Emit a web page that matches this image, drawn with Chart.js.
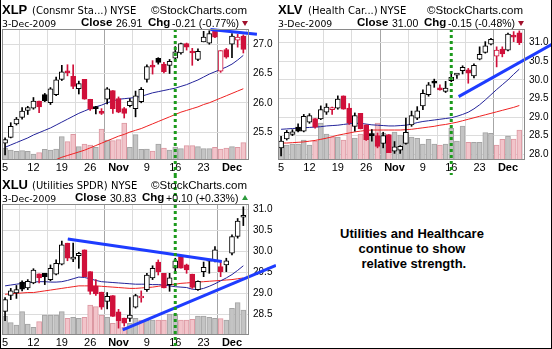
<!DOCTYPE html>
<html>
<head>
<meta charset="utf-8">
<script src="https://cdn.jsdelivr.net/npm/chart.js@4.4.0/dist/chart.umd.min.js"></script>
<style>
  html, body { margin: 0; padding: 0; background: #fff; }
  #page { position: relative; width: 552px; height: 349px; overflow: hidden; background: #fff; }
  #page canvas { position: absolute; }
  .t { position: absolute; white-space: nowrap; line-height: 1; color: #000; }
  .sym { font: bold 13px "Liberation Sans", Arial, sans-serif; }
  .name { font: 10px "DejaVu Sans", sans-serif; }
  .site { font: 11.5px "Liberation Sans", Arial, sans-serif; }
  .date { font: 9.3px "DejaVu Sans", sans-serif; }
  .lbl { font: bold 11.5px "Liberation Sans", Arial, sans-serif; }
  .val { font: 10.5px "Liberation Sans", Arial, sans-serif; }
  .tri { position: absolute; width: 0; height: 0; border-left: 3.5px solid transparent; border-right: 3.5px solid transparent; }
  #note { position: absolute; left: 276px; top: 226px; width: 272px; text-align: center;
          font: bold 13px "Liberation Sans", Arial, sans-serif; line-height: 15px; color: #000; }
  #edge { position: absolute; left: 0; top: 0; width: 552px; height: 349px; box-sizing: border-box;
          border-left: 1px solid #000; border-right: 1px solid #000; border-bottom: 1px solid #000; pointer-events: none; }
</style>
</head>
<body>
<div id="page">
  <canvas id="xlp" width="276" height="175" style="left:0;top:0"></canvas>
  <canvas id="xlv" width="276" height="175" style="left:276px;top:0"></canvas>
  <canvas id="xlu" width="276" height="175" style="left:0;top:175px"></canvas>
  <div id="note">Utilities and Healthcare<br>continue to show<br>&nbsp;relative strength.</div>
  <div id="edge"></div>
</div>
<script>
/* ==========================
   DATA
========================== */
// trading days Oct 5 .. Dec 3 2009 (index = position on the x axis)
const days = ["Oct 5","Oct 6","Oct 7","Oct 8","Oct 9","Oct 12","Oct 13","Oct 14","Oct 15","Oct 16",
  "Oct 19","Oct 20","Oct 21","Oct 22","Oct 23","Oct 26","Oct 27","Oct 28","Oct 29","Oct 30",
  "Nov 2","Nov 3","Nov 4","Nov 5","Nov 6","Nov 9","Nov 10","Nov 11","Nov 12","Nov 13",
  "Nov 16","Nov 17","Nov 18","Nov 19","Nov 20","Nov 23","Nov 24","Nov 25","Nov 27","Nov 30",
  "Dec 1","Dec 2","Dec 3"];
const tickDays = [0, 5, 10, 15, 20, 25, 30, 35, 40];
const tickText = ["5", "12", "19", "26", "Nov", "9", "16", "23", "Dec"];
const monthDays = [20, 40];
const markerDay = 30;
const priceStep = 0.5;

// [open, high, low, close]
const xlpOhlc = [
  [25.31,25.40,25.11,25.37],[25.41,25.66,25.40,25.60],[25.64,25.75,25.62,25.72],[25.75,25.92,25.72,25.86],
  [25.87,25.94,25.80,25.92],[25.91,26.09,25.89,26.03],[26.03,26.03,25.83,25.93],[26.14,26.16,26.02,26.03],
  [26.00,26.26,25.97,26.24],[26.14,26.44,26.12,26.39],[26.40,26.64,26.38,26.53],[26.52,26.65,26.46,26.51],
  [26.45,26.65,26.24,26.28],[26.24,26.37,26.15,26.33],[26.40,26.40,26.06,26.06],[26.06,26.06,25.87,25.89],
  [25.91,25.94,25.81,25.90],[25.83,25.90,25.80,25.82],[26.06,26.26,25.98,26.24],[26.21,26.21,25.82,25.90],
  [26.07,26.10,25.83,25.84],[25.90,25.92,25.74,25.82],[25.95,26.07,25.93,26.03],[25.90,26.20,25.76,26.12],
  [26.02,26.26,26.00,26.23],[26.40,26.65,26.35,26.62],[26.62,26.72,26.49,26.61],[26.76,26.77,26.66,26.69],
  [26.66,26.69,26.51,26.53],[26.64,26.74,26.50,26.71],[26.76,26.96,26.74,26.87],[26.85,27.02,26.83,27.01],
  [27.01,27.02,26.90,26.95],[26.86,26.93,26.64,26.85],[26.74,26.92,26.72,26.88],[27.04,27.22,27.04,27.12],
  [27.02,27.23,27.00,27.18],[27.23,27.24,27.11,27.12],[26.54,26.89,26.52,26.89],[26.91,26.93,26.76,26.78],
  [27.00,27.18,26.77,27.14],[27.07,27.17,26.95,27.12],[27.14,27.16,26.85,26.91]];
const xlpPrev = 25.25;
const xlpVolume = [11,9,7.7,8.3,7.7,5,6.3,9.7,9,10,22.3,17.3,24.7,12.3,15,14,11.7,30,19,18.3,19.3,36,11.7,24.3,
  9.7,10,8,15,11,9,12,10.3,13.3,13.3,12.3,10.3,10.3,11.7,10,11,12.3,11.7,16.3];
const xlpMa20 = [25.24,25.28,25.32,25.36,25.40,25.45,25.49,25.53,25.57,25.62,25.67,25.72,25.77,25.82,25.86,
  25.90,25.93,25.96,26.00,26.03,26.06,26.07,26.08,26.09,26.11,26.14,26.17,26.19,26.21,26.23,26.25,26.28,
  26.31,26.35,26.39,26.44,26.49,26.53,26.57,26.61,26.66,26.73,26.81];
const xlpMa50 = [null,null,null,null,null,null,null,null,null,25.03,25.07,25.10,25.13,25.16,25.19,25.23,25.27,
  25.31,25.35,25.39,25.43,25.46,25.50,25.53,25.56,25.60,25.64,25.68,25.72,25.76,25.80,25.84,25.87,25.90,
  25.93,25.97,26.00,26.04,26.08,26.12,26.16,26.20,26.24];
const xlpTrends = [[[36.2, 27.25], [44.4, 27.17]]];

const xlvOhlc = [
  [28.17,28.48,27.95,28.35],[28.41,28.64,28.38,28.59],[28.53,28.66,28.50,28.60],[28.73,28.82,28.60,28.62],
  [28.62,29.07,28.60,29.02],[28.86,29.09,28.83,29.04],[28.96,28.96,28.70,28.73],[28.95,29.30,28.93,29.20],
  [29.13,29.36,29.07,29.27],[29.20,29.27,29.07,29.25],[29.24,29.57,29.21,29.48],[29.57,29.57,29.21,29.21],
  [29.24,29.36,28.80,28.84],[28.75,29.11,28.62,29.04],[29.10,29.10,28.68,28.68],[28.79,28.79,28.37,28.39],
  [28.51,28.66,28.35,28.50],[28.50,28.57,28.17,28.21],[28.29,28.59,28.17,28.50],[28.53,28.53,28.04,28.04],
  [28.08,28.34,28.02,28.20],[28.11,28.23,28.02,28.21],[28.29,28.97,28.27,28.59],[28.79,29.16,28.75,29.04],
  [28.97,29.28,28.93,29.17],[29.30,29.73,29.20,29.64],[29.60,29.93,29.56,29.87],[29.97,30.02,29.80,29.91],
  [29.78,29.87,29.72,29.73],[29.69,29.96,29.66,29.78],[29.98,30.17,29.95,30.07],[30.13,30.17,30.04,30.16],
  [30.25,30.38,30.16,30.34],[30.27,30.31,29.91,30.18],[30.11,30.43,30.05,30.39],[30.56,30.89,30.54,30.69],
  [30.74,31.03,30.72,30.92],[30.96,31.12,30.94,31.09],[30.64,30.89,30.35,30.80],[30.83,30.89,30.62,30.70],
  [30.80,31.26,30.78,31.23],[31.17,31.30,31.03,31.15],[31.27,31.32,30.95,31.00]];
const xlvPrev = 28.20;
const xlvVolume = [18,14,15,15,19,14,18,36,25,22,22,19,36,21,25,25,26,36,26,23,27,24,27,22,
  20.7,15,19.7,15,14,15,30.7,18,33,16.7,16.7,16.7,26.3,25.7,14,19.7,23,20,29];
const xlvMa20 = [28.67,28.68,28.69,28.70,28.71,28.72,28.73,28.74,28.76,28.77,28.78,28.80,28.82,28.83,28.83,
  28.81,28.79,28.78,28.77,28.76,28.76,28.77,28.78,28.81,28.85,28.88,28.90,28.92,28.94,28.96,28.98,29.02,
  29.07,29.13,29.22,29.33,29.46,29.60,29.74,29.87,30.00,30.15,30.29];
const xlvMa50 = [28.30,28.30,28.31,28.32,28.33,28.35,28.37,28.40,28.43,28.47,28.51,28.54,28.57,28.60,28.62,
  28.64,28.65,28.65,28.65,28.65,28.65,28.65,28.66,28.67,28.69,28.71,28.73,28.75,28.78,28.80,28.83,28.86,
  28.90,28.94,28.98,29.02,29.06,29.10,29.14,29.18,29.22,29.26,29.31];
const xlvTrends = [[[31.3, 29.55], [47.75, 30.96]]];

const xluOhlc = [
  [28.57,28.90,28.35,28.85],[28.95,29.12,28.85,29.06],[29.01,29.19,28.88,29.09],[29.27,29.30,29.06,29.10],
  [29.13,29.33,29.09,29.29],[29.25,29.59,29.23,29.56],[29.47,29.47,29.25,29.37],[29.48,29.48,29.21,29.40],
  [29.33,29.68,29.30,29.60],[29.46,29.80,29.44,29.72],[29.70,30.25,29.68,30.16],[30.20,30.20,29.78,29.84],
  [29.82,30.20,29.76,29.87],[29.90,29.98,29.60,29.96],[30.04,30.04,29.40,29.40],[29.52,29.52,28.98,29.05],
  [29.17,29.33,28.95,28.99],[29.03,29.03,28.62,28.67],[28.81,29.02,28.63,28.93],[28.95,28.95,28.45,28.45],
  [28.56,28.62,28.17,28.35],[28.41,28.41,28.22,28.29],[28.40,28.90,28.33,28.48],[28.67,28.98,28.65,28.95],
  [28.89,29.06,28.79,28.93],[29.09,29.48,29.05,29.44],[29.37,29.66,29.33,29.60],[29.75,29.80,29.44,29.52],
  [29.48,29.48,29.13,29.13],[29.21,29.48,29.05,29.37],[29.60,29.84,29.52,29.78],[29.88,29.90,29.60,29.60],
  [29.68,29.70,29.48,29.56],[29.46,29.46,29.12,29.14],[29.09,29.30,29.07,29.29],[29.52,29.75,29.40,29.62],
  [29.77,29.78,29.48,29.78],[29.78,30.12,29.75,30.04],[29.64,29.78,29.40,29.52],[29.68,29.84,29.52,29.78],
  [29.96,30.40,29.92,30.36],[30.36,30.79,30.32,30.73],[30.82,31.07,30.62,30.83]];
const xluPrev = 28.75;
const xluVolume = [18,11.3,9,22.3,10,6.7,12.3,19,19,19,22.3,15.7,16.7,15.7,16.7,29,27.3,19,16.7,10.7,14.7,6.7,10.7,15.7,
  14,14,14,14,14,20,20,14,14,14.7,18,18,16.7,15.7,15.3,14,25.7,31.3,24];
const xluMa20 = [29.18,29.20,29.22,29.24,29.26,29.27,29.28,29.28,29.27,29.27,29.28,29.31,29.35,29.39,29.38,
  29.35,29.31,29.28,29.27,29.26,29.25,29.24,29.23,29.22,29.22,29.22,29.21,29.21,29.20,29.18,29.16,29.15,
  29.14,29.10,29.09,29.12,29.17,29.23,29.30,29.37,29.45,29.55,29.66];
const xluMa50 = [28.98,28.99,29.00,29.01,29.02,29.02,29.04,29.06,29.08,29.10,29.12,29.14,29.16,29.18,29.18,
  29.18,29.18,29.17,29.16,29.15,29.14,29.13,29.12,29.12,29.13,29.14,29.15,29.17,29.19,29.20,29.22,29.24,
  29.25,29.26,29.27,29.28,29.29,29.30,29.31,29.32,29.33,29.35,29.37];
const xluTrends = [[[11.05, 30.30], [38.2, 29.76]], [[20.74, 28.13], [47.75, 29.67]]];

/* ==========================
   COLOURS
========================== */
const RED = "#d0103a";
const BLACK = "#000000";
const VOL_UP = "#c4c4c4", VOL_UP_EDGE = "#a4a4a4";
const VOL_DN = "#f2c4ca", VOL_DN_EDGE = "#dc98a2";
const MA20_COLOR = "#23239a";
const MA50_COLOR = "#ee2222";
const TREND_COLOR = "#1e3cff";
const GREEN = "#1c9a1c";

/* ==========================
   HEADERS
========================== */
const page = document.getElementById("page");

function addText(cls, text, x, baseline, size, color) {
    const el = document.createElement("div");
    el.className = "t " + cls;
    el.textContent = text;
    el.style.left = x + "px";
    el.style.top = (baseline - size * 0.85) + "px";
    if (color) el.style.color = color;
    page.appendChild(el);
}

function addHeader(px, py, h) {
    addText("sym", h.sym, px + 2, py + 13.5, 13);
    addText("name", h.name, px + 32, py + 13.3, 10);
    addText("name", "NYSE", px + h.exchX, py + 13.3, 10);
    addText("site", "\u00a9StockCharts.com", px + 151, py + 13.3, 11.5);
    addText("date", "3-Dec-2009", px + 2, py + 26, 9.3);
    addText("lbl", "Close", px + h.closeX, py + 26, 11.5);
    addText("val", h.close, px + h.closeX + 35, py + 26, 10.5);
    addText("lbl", "Chg", px + h.closeX + 67, py + 26, 11.5);
    addText("val", h.chg, px + h.closeX + 91, py + 26, 10.5);
    const tri = document.createElement("div");
    tri.className = "tri";
    tri.style.left = (px + 242) + "px";
    if (h.up) {
        tri.style.top = (py + 20) + "px";
        tri.style.borderBottom = "5px solid #2c9a3c";
    } else {
        tri.style.top = (py + 21) + "px";
        tri.style.borderTop = "5px solid #a0102c";
    }
    page.appendChild(tri);
}

addHeader(0, 0, { sym: "XLP", name: "(Consmr Sta...)", exchX: 110, closeX: 81, close: "26.91", chg: "-0.21 (-0.77%)", up: false });
addHeader(276, 0, { sym: "XLV", name: "(Health Car...)", exchX: 104, closeX: 81, close: "31.00", chg: "-0.15 (-0.48%)", up: false });
addHeader(0, 175, { sym: "XLU", name: "(Utilities SPDR)", exchX: 111, closeX: 75, close: "30.83", chg: "+0.10 (+0.33%)", up: true });

/* ==========================
   PANEL CHARTS
========================== */
const framePlugin = {
    id: "frame",
    afterDatasetsDraw(chart, args, opts) {
        const { ctx, chartArea: a } = chart;
        const x = chart.scales.x.getPixelForValue(markerDay);
        ctx.save();
        ctx.strokeStyle = GREEN;
        ctx.lineWidth = 3;
        ctx.setLineDash([3, 3]);
        ctx.beginPath();
        ctx.moveTo(x, opts.fromTop ? 0 : a.top);
        ctx.lineTo(x, chart.height);
        ctx.stroke();
        ctx.setLineDash([]);
        ctx.strokeStyle = "#8a8a8a";
        ctx.lineWidth = 1;
        ctx.strokeRect(Math.round(a.left) + 0.5, Math.round(a.top) + 0.5,
            Math.round(a.right - a.left) - 1, Math.round(a.bottom - a.top));
        ctx.restore();
    }
};

function priceTicks(scale) {
    const ticks = [];
    for (let v = Math.ceil(scale.min / priceStep) * priceStep; v <= scale.max; v += priceStep) {
        ticks.push({ value: Math.round(v * 10) / 10 });
    }
    scale.ticks = ticks;
}

function makePanel(id, ohlc, prevClose, volume, ma20, ma50, trends, yMin, yMax, fromTop) {
    const down = ohlc.map((d, i) => d[3] < (i ? ohlc[i - 1][3] : prevClose));
    const edge = down.map(dn => dn ? RED : BLACK);
    const fill = ohlc.map((d, i) => d[3] > d[0] ? "#ffffff" : edge[i]);

    const datasets = [
        {
            type: "bar", label: "Volume", yAxisID: "v", grouped: false, order: 5,
            data: volume.map((v, i) => ({ x: i, y: v })),
            backgroundColor: down.map(dn => dn ? VOL_DN : VOL_UP),
            borderColor: down.map(dn => dn ? VOL_DN_EDGE : VOL_UP_EDGE),
            borderWidth: 1, barThickness: 5
        },
        {
            type: "line", label: "MA20", yAxisID: "y", order: 4,
            data: ma20.map((v, i) => ({ x: i, y: v })),
            borderColor: MA20_COLOR, borderWidth: 1, pointRadius: 0, tension: 0
        },
        {
            type: "line", label: "MA50", yAxisID: "y", order: 4,
            data: ma50.map((v, i) => ({ x: i, y: v })),
            borderColor: MA50_COLOR, borderWidth: 1, pointRadius: 0, tension: 0
        },
        {
            type: "bar", label: "Range", yAxisID: "y", grouped: false, order: 3,
            data: ohlc.map((d, i) => ({ x: i, y: [d[2], d[1]] })),
            backgroundColor: edge, barThickness: 1
        },
        {
            type: "bar", label: "Body", yAxisID: "y", grouped: false, order: 2,
            data: ohlc.map((d, i) => ({ x: i, y: [d[0], d[3]] })),
            backgroundColor: fill, borderColor: edge, borderWidth: 1,
            borderSkipped: false, barThickness: 5, minBarLength: 2
        }
    ];
    trends.forEach(t => datasets.push({
        type: "line", label: "Trend", yAxisID: "y", order: 1, clip: false,
        data: t.map(p => ({ x: p[0], y: p[1] })),
        borderColor: TREND_COLOR, borderWidth: 3, pointRadius: 0
    }));

    return new Chart(document.getElementById(id), {
        type: "bar",
        data: { datasets },
        plugins: [framePlugin],
        options: {
            responsive: false,
            animation: false,
            devicePixelRatio: 1,
            layout: { padding: { top: 29, left: 2, right: 0, bottom: 0 } },
            plugins: { legend: { display: false }, tooltip: { enabled: false }, frame: { fromTop } },
            scales: {
                x: {
                    type: "linear", min: -0.53, max: 43.0, offset: false,
                    afterBuildTicks: s => { s.ticks = tickDays.map(v => ({ value: v })); },
                    afterFit: s => { s.height = 16; },
                    grid: {
                        drawTicks: false,
                        color: c => (c.tick && monthDays.includes(c.tick.value)) ? "#a6a6a6" : "#dcdcdc"
                    },
                    border: { display: false },
                    ticks: {
                        autoSkip: false, maxRotation: 0, padding: 2, color: "#000",
                        callback: v => tickText[tickDays.indexOf(v)],
                        font: c => ({
                            family: "'Liberation Sans', Arial, sans-serif", size: 11,
                            weight: (c.tick && monthDays.includes(c.tick.value)) ? "bold" : "normal"
                        })
                    }
                },
                y: {
                    position: "right", min: yMin, max: yMax,
                    afterBuildTicks: priceTicks,
                    afterFit: s => { s.width = 27; },
                    grid: { drawTicks: false, color: "#dcdcdc" },
                    border: { display: false },
                    ticks: {
                        padding: 4, color: "#000",
                        font: { family: "'Liberation Sans', Arial, sans-serif", size: 10 },
                        callback: v => Number(v).toFixed(1)
                    }
                },
                v: { display: false, min: 0, max: 130 }
            }
        }
    });
}

makePanel("xlp", xlpOhlc, xlpPrev, xlpVolume, xlpMa20, xlpMa50, xlpTrends, 25.04, 27.26, false);
makePanel("xlv", xlvOhlc, xlvPrev, xlvVolume, xlvMa20, xlvMa50, xlvTrends, 27.87, 31.37, false);
makePanel("xlu", xluOhlc, xluPrev, xluVolume, xluMa20, xluMa50, xluTrends, 28.03, 31.136, true);
</script>
</body>
</html>
